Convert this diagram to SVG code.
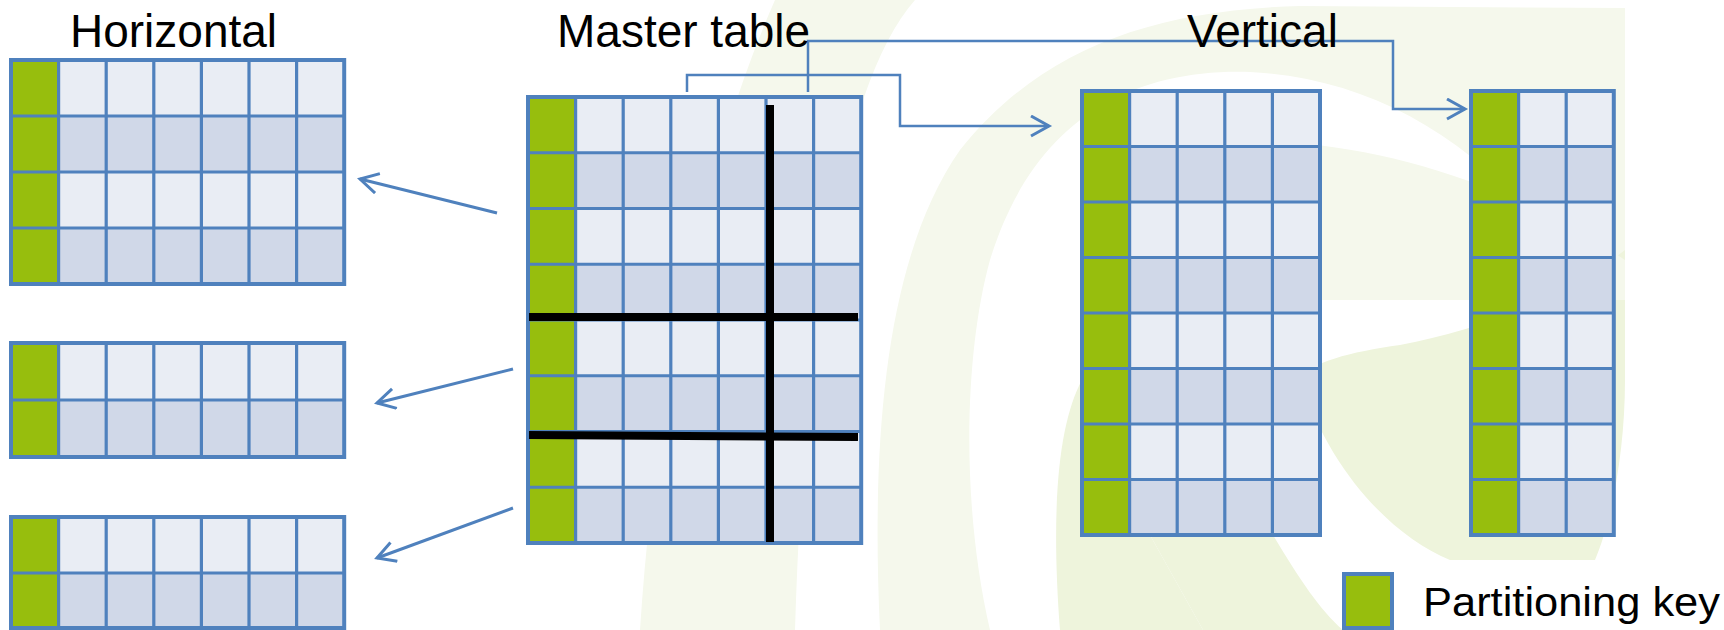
<svg xmlns="http://www.w3.org/2000/svg" width="1724" height="630" viewBox="0 0 1724 630">
<style>
.lt{fill:#e9edf4}
.dk{fill:#d0d8e8}
.gk{fill:#97be0d}
.grid{fill:none;stroke:#4f81bd;stroke-width:3.2}
.outer{fill:none;stroke:#4f81bd;stroke-width:4}
.cut{stroke:#000;stroke-width:8;stroke-linecap:butt;fill:none}
.conn{fill:none;stroke:#4f81bd;stroke-width:3}
.conn2{fill:none;stroke:#4f81bd;stroke-width:2.5}
.title{font-family:"Liberation Sans",Arial,sans-serif;font-size:46px;fill:#000}
.legend{font-family:"Liberation Sans",Arial,sans-serif;font-size:41px;fill:#000}
.wm1{fill:#f5f8ec}
.wm2{fill:#eef4dc}
</style>
<defs>
<marker id="arr" markerUnits="userSpaceOnUse" markerWidth="24" markerHeight="26" refX="19" refY="11" orient="auto">
<path d="M1,1 L19,11 L1,21" fill="none" stroke="#4f81bd" stroke-width="3"/>
</marker>
</defs>
<rect width="1724" height="630" fill="#fff"/>
<g id="watermark">
<path class="wm1" d="M 640 630 C 655 400 700 170 775 0 L 915 0 C 845 80 805 300 795 630 Z"/>
<path class="wm1" d="M 880 630 C 870 420 890 250 960 150 C 1040 50 1150 10 1300 6 L 1625 8 L 1625 380 C 1560 200 1420 80 1250 72 C 1120 68 1030 130 990 260 C 965 350 960 500 990 630 Z"/>
<path class="wm2" d="M 1060 630 C 1050 500 1060 420 1082 380 L 1150 535 L 1203 630 Z"/>
<path class="wm2" d="M 1150 535 C 1120 480 1110 400 1130 330 L 1240 300 C 1260 420 1280 480 1273 535 C 1300 580 1320 610 1343 630 L 1203 630 Z"/>
<path class="wm2" d="M 1300 380 C 1330 470 1390 535 1450 560 L 1595 560 C 1612 520 1625 450 1625 380 L 1625 250 C 1560 300 1480 330 1400 345 C 1350 352 1310 362 1300 380 Z"/>
<path class="wm1" d="M 1293 143 C 1400 150 1520 190 1625 260 L 1625 300 L 1320 300 L 1320 180 Z"/>
</g>

<g id="horizontal-1">
<rect class="lt" x="11" y="60" width="333.2" height="56"/>
<rect class="dk" x="11" y="116" width="333.2" height="56"/>
<rect class="lt" x="11" y="172" width="333.2" height="56"/>
<rect class="dk" x="11" y="228" width="333.2" height="56"/>
<rect class="gk" x="11" y="60" width="47.6" height="224"/>
<path class="grid" d="M58.6,60V284M106.2,60V284M153.8,60V284M201.4,60V284M249,60V284M296.6,60V284M11,116H344.2M11,172H344.2M11,228H344.2"/>
<rect class="outer" x="11" y="60" width="333.2" height="224"/>
</g>

<g id="horizontal-2">
<rect class="lt" x="11" y="343" width="333.2" height="57"/>
<rect class="dk" x="11" y="400" width="333.2" height="57"/>
<rect class="gk" x="11" y="343" width="47.6" height="114"/>
<path class="grid" d="M58.6,343V457M106.2,343V457M153.8,343V457M201.4,343V457M249,343V457M296.6,343V457M11,400H344.2"/>
<rect class="outer" x="11" y="343" width="333.2" height="114"/>
</g>

<g id="horizontal-3">
<rect class="lt" x="11" y="517" width="333.2" height="56"/>
<rect class="dk" x="11" y="573" width="333.2" height="55"/>
<rect class="gk" x="11" y="517" width="47.6" height="111"/>
<path class="grid" d="M58.6,517V628M106.2,517V628M153.8,517V628M201.4,517V628M249,517V628M296.6,517V628M11,573H344.2"/>
<rect class="outer" x="11" y="517" width="333.2" height="111"/>
</g>

<g id="master-table">
<rect class="lt" x="528" y="97" width="333.2" height="55.75"/>
<rect class="dk" x="528" y="152.75" width="333.2" height="55.75"/>
<rect class="lt" x="528" y="208.5" width="333.2" height="55.75"/>
<rect class="dk" x="528" y="264.25" width="333.2" height="55.75"/>
<rect class="lt" x="528" y="320" width="333.2" height="55.75"/>
<rect class="dk" x="528" y="375.75" width="333.2" height="55.75"/>
<rect class="lt" x="528" y="431.5" width="333.2" height="55.75"/>
<rect class="dk" x="528" y="487.25" width="333.2" height="55.75"/>
<rect class="gk" x="528" y="97" width="47.6" height="446"/>
<path class="grid" d="M575.6,97V543M623.2,97V543M670.8,97V543M718.4,97V543M766,97V543M813.6,97V543M528,152.75H861.2M528,208.5H861.2M528,264.25H861.2M528,320H861.2M528,375.75H861.2M528,431.5H861.2M528,487.25H861.2"/>
<rect class="outer" x="528" y="97" width="333.2" height="446"/>
<path class="cut" d="M770,105V542"/>
<path class="cut" d="M529,317H858"/>
<path class="cut" d="M529,435L858,437"/>
</g>

<g id="vertical-1">
<rect class="lt" x="1082" y="91" width="238" height="55.5"/>
<rect class="dk" x="1082" y="146.5" width="238" height="55.5"/>
<rect class="lt" x="1082" y="202" width="238" height="55.5"/>
<rect class="dk" x="1082" y="257.5" width="238" height="55.5"/>
<rect class="lt" x="1082" y="313" width="238" height="55.5"/>
<rect class="dk" x="1082" y="368.5" width="238" height="55.5"/>
<rect class="lt" x="1082" y="424" width="238" height="55.5"/>
<rect class="dk" x="1082" y="479.5" width="238" height="55.5"/>
<rect class="gk" x="1082" y="91" width="47.6" height="444"/>
<path class="grid" d="M1129.6,91V535M1177.2,91V535M1224.8,91V535M1272.4,91V535M1082,146.5H1320M1082,202H1320M1082,257.5H1320M1082,313H1320M1082,368.5H1320M1082,424H1320M1082,479.5H1320"/>
<rect class="outer" x="1082" y="91" width="238" height="444"/>
</g>

<g id="vertical-2">
<rect class="lt" x="1471" y="91" width="142.8" height="55.5"/>
<rect class="dk" x="1471" y="146.5" width="142.8" height="55.5"/>
<rect class="lt" x="1471" y="202" width="142.8" height="55.5"/>
<rect class="dk" x="1471" y="257.5" width="142.8" height="55.5"/>
<rect class="lt" x="1471" y="313" width="142.8" height="55.5"/>
<rect class="dk" x="1471" y="368.5" width="142.8" height="55.5"/>
<rect class="lt" x="1471" y="424" width="142.8" height="55.5"/>
<rect class="dk" x="1471" y="479.5" width="142.8" height="55.5"/>
<rect class="gk" x="1471" y="91" width="47.6" height="444"/>
<path class="grid" d="M1518.6,91V535M1566.2,91V535M1471,146.5H1613.8M1471,202H1613.8M1471,257.5H1613.8M1471,313H1613.8M1471,368.5H1613.8M1471,424H1613.8M1471,479.5H1613.8"/>
<rect class="outer" x="1471" y="91" width="142.8" height="444"/>
</g>

<g id="connectors">
<path class="conn" d="M497,213L360,179" marker-end="url(#arr)"/>
<path class="conn" d="M513,369L377,403" marker-end="url(#arr)"/>
<path class="conn" d="M513,508L377,558" marker-end="url(#arr)"/>
<path class="conn2" d="M687,92V75H900V126H1049" marker-end="url(#arr)"/>
<path class="conn2" d="M808,92V41H1393V109H1465" marker-end="url(#arr)"/>
</g>

<g id="titles">
<text class="title" x="70" y="47">Horizontal</text>
<text class="title" x="557" y="47">Master table</text>
<text class="title" x="1187" y="47">Vertical</text>
</g>

<g id="legend">
<rect x="1344" y="574" width="48" height="54" fill="#97be0d" stroke="#4f81bd" stroke-width="4"/>
<text class="legend" x="1423" y="616" textLength="297" lengthAdjust="spacingAndGlyphs">Partitioning key</text>
</g>
</svg>
